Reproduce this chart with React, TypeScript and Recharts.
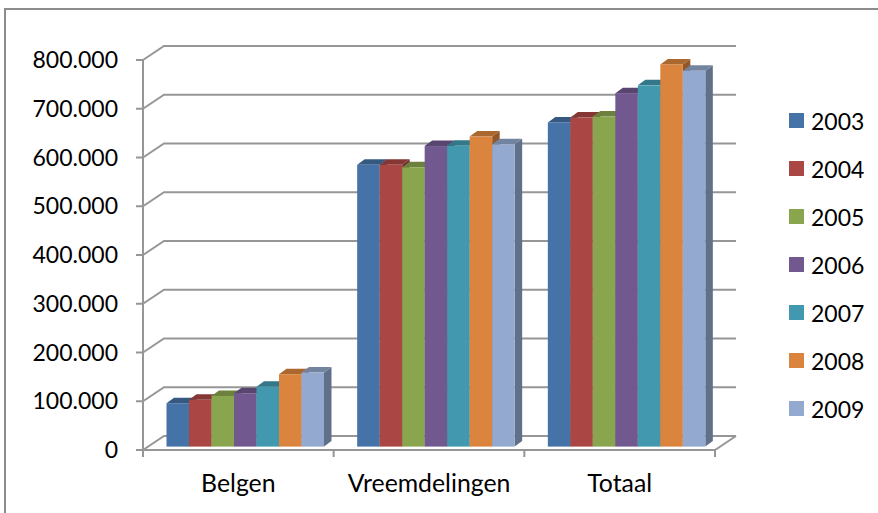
import { Bar, BarChart, CartesianGrid, Legend, XAxis, YAxis } from "recharts"

const categories = ["Belgen", "Vreemdelingen", "Totaal"]
const years = ["2003", "2004", "2005", "2006", "2007", "2008", "2009"]
const colors = ["#4572A7", "#AA4643", "#89A54E", "#71588F", "#4198AF", "#DB843D", "#93A9CF"]

const belgen = [89000, 96000, 104000, 109500, 123000, 148500, 152000]
const vreemdelingen = [578000, 578000, 573000, 616500, 617000, 636000, 620000]
const totaal = [665000, 675000, 677000, 725000, 741000, 784000, 771000]

const yTicks = [0, 100000, 200000, 300000, 400000, 500000, 600000, 700000, 800000]

const data = categories.map((name, c) => {
  const row: Record<string, string | number> = { name }
  years.forEach((y, i) => {
    row[y] = [belgen, vreemdelingen, totaal][c][i]
  })
  return row
})

const FONT = "Lato, Carlito, sans-serif"
const GRID = "#969696"
const DEPTH_X = 21
const DEPTH_Y = 14
// bars stand halfway in the floor depth
const BAR_DX = 6.5
const BAR_DY = 3.4
const BAR_SIDE_X = 7.5
const BAR_SIDE_Y = 5.5
const BAND = 572 / 3

function shade(hex: string, f: number): string {
  const n = parseInt(hex.slice(1), 16)
  const c = (v: number) => Math.round(v * f)
  return `rgb(${c(n >> 16)},${c((n >> 8) & 255)},${c(n & 255)})`
}

function formatThousands(v: number): string {
  return String(v).replace(/\B(?=(\d{3})+$)/g, ".")
}

function Bar3D(props: any) {
  const { x, y, width, height, fill } = props
  const fx = x + BAR_DX
  const fy = y - BAR_DY
  const sx = BAR_SIDE_X
  const sy = BAR_SIDE_Y
  return (
    <g>
      <path
        d={`M${fx + width},${fy} l${sx},${-sy} v${height} l${-sx},${sy} Z`}
        fill={shade(fill, 0.66)}
      />
      <path
        d={`M${fx},${fy} l${sx},${-sy} h${width} l${-sx},${sy} Z`}
        fill={shade(fill, 0.78)}
      />
      <rect x={fx} y={fy} width={width} height={height} fill={fill} />
    </g>
  )
}

function GridLine(props: any) {
  const { x1, x2, y1, index } = props
  const d = `M${x1},${y1} l${DEPTH_X},${-DEPTH_Y} L${x2 + DEPTH_X},${y1 - DEPTH_Y}`
  // the lowest line also closes the floor
  const isFloor = y1 > 440
  return (
    <g key={`grid-${index}`}>
      <path d={d} fill="none" stroke={GRID} strokeWidth={2} />
      {isFloor && (
        <path
          d={`M${x1},${y1} L${x2},${y1} l${DEPTH_X},${-DEPTH_Y}`}
          fill="none"
          stroke={GRID}
          strokeWidth={2}
        />
      )}
    </g>
  )
}

function CategoryTick(props: any) {
  const { x, payload, index } = props
  const tickTop = 450
  return (
    <g>
      <line x1={x - BAND / 2} x2={x - BAND / 2} y1={tickTop} y2={tickTop + 7} stroke={GRID} strokeWidth={2} />
      {index === categories.length - 1 && (
        <line x1={x + BAND / 2} x2={x + BAND / 2} y1={tickTop} y2={tickTop + 7} stroke={GRID} strokeWidth={2} />
      )}
      <text x={x} y={492} textAnchor="middle" fontFamily={FONT} fontSize={24.8} fill="#000">
        {payload.value}
      </text>
    </g>
  )
}

function YearLegend() {
  return (
    <div style={{ fontFamily: FONT, fontSize: 23, color: "#000" }}>
      {years.map((y, i) => (
        <div key={y} style={{ height: 48, display: "flex", alignItems: "center" }}>
          <span style={{ width: 15, height: 15, background: colors[i], marginRight: 7 }} />
          {y}
        </div>
      ))}
    </div>
  )
}

export default function App() {
  return (
    <div style={{ position: "absolute", left: 0, top: 0, width: 878, height: 513, background: "#fff" }}>
      <div
        style={{
          position: "absolute",
          left: 4,
          top: 8,
          width: 874,
          height: 505,
          boxSizing: "border-box",
          borderTop: "2px solid #8c8c8c",
          borderLeft: "2px solid #8c8c8c",
        }}
      />
      <BarChart
        width={878}
        height={513}
        data={data}
        margin={{ top: 60, right: 74, bottom: 0, left: 0 }}
        barGap={0}
        style={{ position: "absolute", left: 0, top: 0 }}
      >
        <CartesianGrid horizontal={GridLine} vertical={false} />
        <XAxis
          dataKey="name"
          tick={CategoryTick}
          tickLine={false}
          axisLine={false}
          interval={0}
          height={63}
        />
        <YAxis
          width={143}
          domain={[0, 800000]}
          ticks={yTicks}
          tickFormatter={formatThousands}
          tick={{ fontFamily: FONT, fontSize: 23, fill: "#000" }}
          tickSize={7}
          tickMargin={18}
          tickLine={{ stroke: GRID, strokeWidth: 2 }}
          axisLine={{ stroke: GRID, strokeWidth: 2 }}
        />
        <Legend
          layout="vertical"
          align="right"
          verticalAlign="top"
          wrapperStyle={{ position: "absolute", left: 789, top: 96.5, width: 89 }}
          content={YearLegend}
        />
        {years.map((y, i) => (
          <Bar key={y} dataKey={y} fill={colors[i]} barSize={22.5} shape={Bar3D} isAnimationActive={false} />
        ))}
      </BarChart>
    </div>
  )
}
